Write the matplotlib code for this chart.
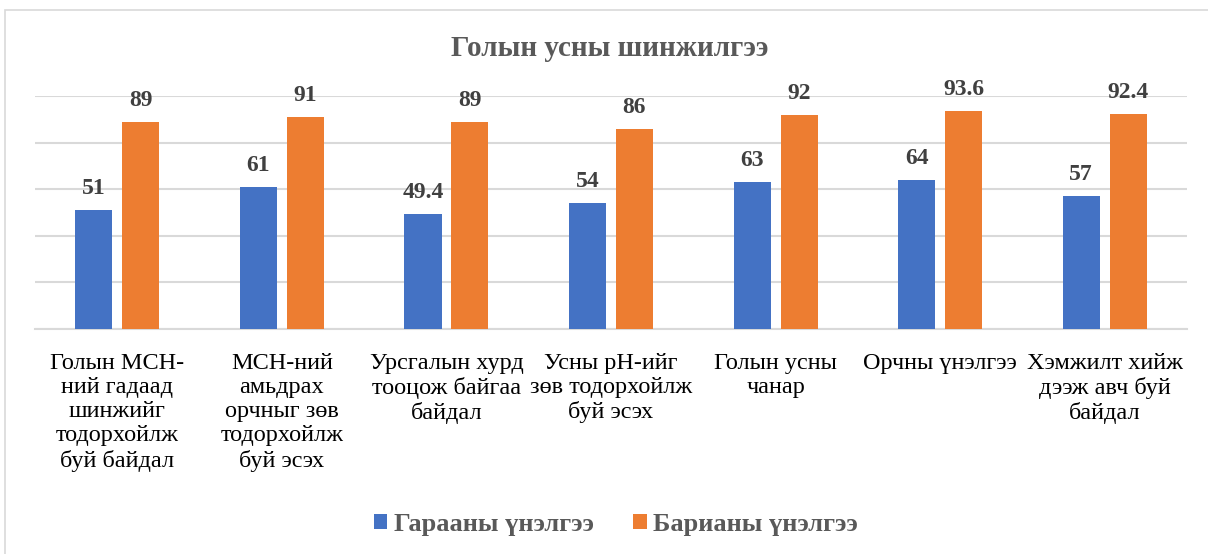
import numpy as np
import matplotlib.pyplot as plt
from matplotlib.patches import Rectangle

# Data
categories = ["Голын МСН-\nний гадаад\nшинжийг\nтодорхойлж\nбуй байдал",
              "МСН-ний\nамьдрах\nорчныг зөв\nтодорхойлж\nбуй эсэх",
              "Урсгалын хурд\nтооцож байгаа\nбайдал",
              "Усны pH-ийг\nзөв тодорхойлж\nбуй эсэх",
              "Голын усны\nчанар",
              "Орчны үнэлгээ",
              "Хэмжилт хийж\nдээж авч буй\nбайдал"]
before = [51, 61, 49.4, 54, 63, 64, 57]
after = [89, 91, 89, 86, 92, 93.6, 92.4]
series_names = ["Гарааны үнэлгээ", "Барианы үнэлгээ"]

FONT = 'Liberation Serif'
plt.rcParams['font.family'] = FONT

fig = plt.figure(figsize=(12.08, 5.54), dpi=100)
ax = fig.add_axes([0.029, 0.406, 0.9536, 0.4207])

# outer chart border
fig.patches.append(Rectangle((5/1208, -0.1), 1.2, (554-10)/554 + 0.1,
                             transform=fig.transFigure, fill=False,
                             edgecolor='#d9d9d9', lw=1.2))

x = np.arange(len(categories))
w = 0.225
off = 0.1425
b1 = ax.bar(x - off, before, w, color='#4472C4', label=series_names[0], zorder=3)
b2 = ax.bar(x + off, after, w, color='#ED7D31', label=series_names[1], zorder=3)

for bars, vals in ((b1, before), (b2, after)):
    for r, v in zip(bars, vals):
        ax.annotate(f'{v:g}', (r.get_x() + r.get_width()/2, v),
                    xytext=(0, 8), textcoords='offset points',
                    ha='center', va='bottom', fontsize=17, fontweight='bold',
                    color='#404040', fontfamily=FONT)

ax.set_xlim(-0.5, len(categories) - 0.5)
ax.set_ylim(0, 100)
ax.set_yticks(np.arange(0, 101, 20))
ax.yaxis.grid(True, color='#d9d9d9', lw=1.5, zorder=0)
ax.tick_params(axis='y', left=False, labelleft=False)
ax.set_xticks(x)
ax.tick_params(axis='x', bottom=False, labelbottom=False)
for s in ['top', 'right', 'left']:
    ax.spines[s].set_visible(False)
ax.spines['bottom'].set_color('#d9d9d9')
ax.spines['bottom'].set_linewidth(1.5)

# category labels, placed under each group
for xi, lab in zip(x, categories):
    ax.annotate(lab, (xi, 0), xycoords=('data', 'axes fraction'),
                xytext=(0, -17), textcoords='offset points',
                ha='center', va='top', fontsize=17.5, color='#000000',
                linespacing=1.2, fontfamily=FONT)

fig.text(0.505, 0.912, "Голын усны шинжилгээ", ha='center', va='center',
         fontsize=21, fontweight='bold', color='#595959', fontfamily=FONT)

fig.legend(loc='center', bbox_to_anchor=(0.51, 0.054), ncol=2, frameon=False,
           prop={'family': FONT, 'size': 19, 'weight': 'bold'},
           labelcolor='#595959',
           handlelength=0.5, handleheight=0.5, handletextpad=0.25,
           columnspacing=1.5)

fig.savefig('out.png', dpi=100)
